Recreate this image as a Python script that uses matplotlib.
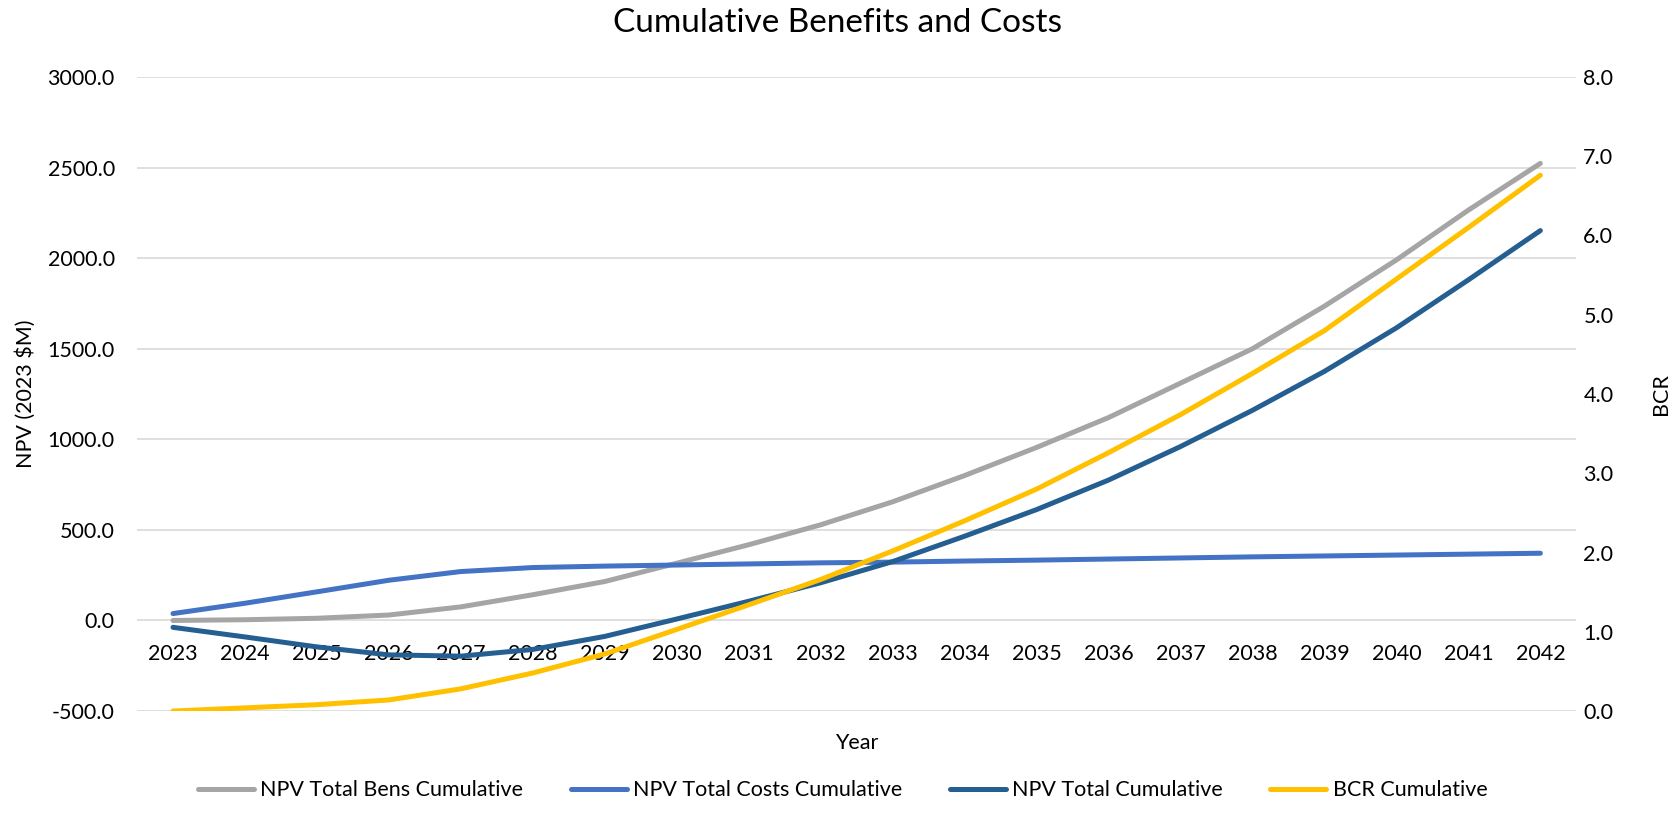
import matplotlib.pyplot as plt

plt.rcParams['font.family'] = ['Lato', 'DejaVu Sans']

# datos
anios = list(range(2023, 2043))
beneficios = [0, 4, 12, 30, 75, 142, 215, 316, 418, 528,
              655, 800, 955, 1120, 1310, 1500, 1735, 1990, 2265, 2523]
costos = [38, 95, 158, 222, 270, 292, 300, 306, 312, 318,
          322, 328, 333, 339, 345, 351, 356, 361, 366, 371]
total = [-38, -91, -146, -190, -197, -160, -88, 8, 106, 208,
         325, 465, 612, 775, 960, 1160, 1375, 1615, 1880, 2152]
bcr = [0.0, 0.04, 0.08, 0.14, 0.28, 0.48, 0.72, 1.03, 1.34, 1.66,
       2.02, 2.4, 2.8, 3.26, 3.74, 4.26, 4.8, 5.45, 6.1, 6.76]
ticks_izq = [-500, 0, 500, 1000, 1500, 2000, 2500, 3000]
ticks_der = [0, 1, 2, 3, 4, 5, 6, 7, 8]

gris = '#A5A5A5'
azul = '#4472C4'
azul_osc = '#255E91'
oro = '#FFC000'

fig = plt.figure(figsize=(16.75, 8.17), dpi=100)
ax = fig.add_axes([0.0818, 0.1297, 0.8593, 0.7761])
ax2 = ax.twinx()

l1, = ax.plot(anios, beneficios, color=gris, lw=3.6, solid_capstyle='round', label='NPV Total Bens Cumulative')
l2, = ax.plot(anios, costos, color=azul, lw=3.6, solid_capstyle='round', label='NPV Total Costs Cumulative')
l3, = ax.plot(anios, total, color=azul_osc, lw=3.6, solid_capstyle='round', label='NPV Total Cumulative')
l4, = ax2.plot(anios, bcr, color=oro, lw=3.6, solid_capstyle='round', label='BCR Cumulative')

ax.set_xlim(2022.5, 2042.5)
ax.set_ylim(-500, 3000)
ax2.set_ylim(0, 8)
ax.set_yticks(ticks_izq)
ax.set_yticklabels([f'{v:.1f}' for v in ticks_izq])
ax2.set_yticks(ticks_der)
ax2.set_yticklabels([f'{v:.1f}' for v in ticks_der])
ax.set_xticks(anios)
ax.set_xticklabels([str(a) for a in anios])

ax.grid(axis='y', color='#D9D9D9', lw=1.2)
ax.set_axisbelow(True)
for s in ['top', 'right', 'left']:
    ax.spines[s].set_visible(False)
for s in ['top', 'right', 'left', 'bottom']:
    ax2.spines[s].set_visible(False)
ax.spines['bottom'].set_position(('data', 0))
ax.spines['bottom'].set_visible(False)

ax.tick_params(axis='x', length=0, pad=17, labelsize=15.5)
ax.tick_params(axis='y', length=0, pad=16, labelsize=15.5)
ax2.tick_params(axis='y', length=0, pad=5, labelsize=15.5)

ax.set_ylabel('NPV (2023 $M)', fontsize=15.5)
ax.yaxis.set_label_coords(-0.07, 0.5)
ax2.set_ylabel('BCR', fontsize=15.5, rotation=90)
ax2.yaxis.set_label_coords(1.052, 0.5)
ax.set_xlabel('Year', fontsize=15.5)
ax.xaxis.set_label_coords(0.5, -0.035)

fig.suptitle('Cumulative Benefits and Costs', fontsize=24, y=0.99)

fig.legend(handles=[l1, l2, l3, l4], loc='lower center', bbox_to_anchor=(0.503, -0.003),
           ncol=4, frameon=False, fontsize=15.5, handlelength=2.6, columnspacing=2.2,
           handletextpad=0.3)

fig.savefig('out.png', dpi=100)
